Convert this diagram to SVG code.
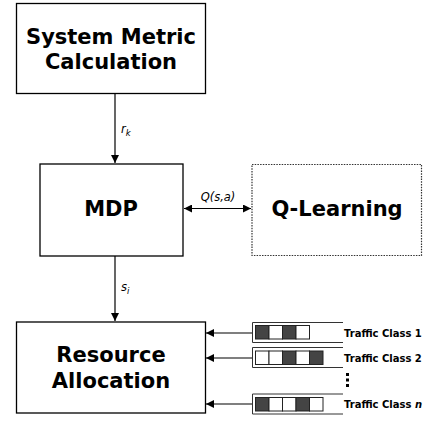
<svg xmlns="http://www.w3.org/2000/svg" width="427" height="422" viewBox="0 0 427 422">
<style>
.box{fill:#fff;stroke:#000;stroke-width:1.3}
.dash{fill:#fff;stroke:#333;stroke-width:1.2;stroke-dasharray:1.5,1.2}
.big{font-family:"DejaVu Sans",sans-serif;font-weight:bold;font-size:21px;text-anchor:middle;fill:#000}
.lab{font-family:"DejaVu Sans",sans-serif;font-style:italic;font-size:11.5px;fill:#000}
.tc{font-family:"DejaVu Sans",sans-serif;font-weight:bold;font-size:10px;fill:#000}
.ln{stroke:#000;stroke-width:1.2;fill:none}
.q{fill:none;stroke:#333;stroke-width:1}
.d{fill:#444;stroke:#222;stroke-width:1}
.w{fill:#fff;stroke:#222;stroke-width:1}
</style>
<defs>
<marker id="ah2" viewBox="0 0 10 10" refX="10" refY="5" markerWidth="11" markerHeight="8" markerUnits="userSpaceOnUse" orient="auto-start-reverse">
<path d="M0,0 L10,5 L0,10 z" fill="#000"/>
</marker>
</defs>
<g id="connectors">
<line class="ln" x1="115" y1="94" x2="115" y2="163" marker-end="url(#ah2)"/>
<text class="lab" x="121" y="133">r<tspan font-size="8.5" dy="3">k</tspan></text>
<line class="ln" x1="184" y1="208.5" x2="251" y2="208.5" marker-start="url(#ah2)" marker-end="url(#ah2)"/>
<text class="lab" x="218" y="201" text-anchor="middle">Q(s,a)</text>
<line class="ln" x1="115" y1="256" x2="115" y2="321" marker-end="url(#ah2)"/>
<text class="lab" x="121" y="291">s<tspan font-size="8.5" dy="3">i</tspan></text>
<line class="ln" x1="252" y1="333" x2="206" y2="333" marker-end="url(#ah2)"/>
<line class="ln" x1="252" y1="358" x2="206" y2="358" stroke="#333" marker-end="url(#ah2)"/>
<line class="ln" x1="252" y1="404" x2="206" y2="404" stroke="#333" marker-end="url(#ah2)"/>
</g>
<g id="system-metric">
<rect class="box" x="16.5" y="3.5" width="189" height="90"/>
<text class="big" x="111" y="44">System Metric</text>
<text class="big" x="111" y="69">Calculation</text>
</g>
<g id="mdp">
<rect class="box" x="40" y="164" width="143" height="92"/>
<text class="big" x="111" y="216">MDP</text>
</g>
<g id="q-learning">
<rect class="dash" x="252" y="164.5" width="169.5" height="91"/>
<text class="big" x="337" y="216">Q-Learning</text>
</g>
<g id="resource-allocation">
<rect class="box" x="16.5" y="322" width="189" height="91"/>
<text class="big" x="111" y="362">Resource</text>
<text class="big" x="111" y="388">Allocation</text>
</g>
<g id="traffic-class-1">
<path class="q" d="M343,322.5 H252.5 V342.5 H343"/>
<rect class="d" x="255.5" y="325.5" width="13.5" height="13.5"/>
<rect class="w" x="269" y="325.5" width="13.5" height="13.5"/>
<rect class="d" x="282.5" y="325.5" width="13.5" height="13.5"/>
<rect class="w" x="296" y="325.5" width="13.5" height="13.5"/>
<text class="tc" x="344" y="337">Traffic Class 1</text>
</g>
<g id="traffic-class-2">
<path class="q" d="M343,347.5 H252.5 V367.5 H343"/>
<rect class="w" x="255.5" y="351" width="13.5" height="13.5"/>
<rect class="w" x="269" y="351" width="13.5" height="13.5"/>
<rect class="d" x="282.5" y="351" width="13.5" height="13.5"/>
<rect class="w" x="296" y="351" width="13.5" height="13.5"/>
<rect class="d" x="309.5" y="351" width="13.5" height="13.5"/>
<text class="tc" x="344" y="362">Traffic Class 2</text>
</g>
<g id="ellipsis">
<rect x="346" y="373" width="3" height="3" fill="#000"/>
<rect x="346" y="378.5" width="3" height="3" fill="#000"/>
<rect x="346" y="384" width="3" height="3" fill="#000"/>
</g>
<g id="traffic-class-n">
<path class="q" d="M343,394 H252.5 V414 H343"/>
<rect class="d" x="255.5" y="397.5" width="13.5" height="13.5"/>
<rect class="w" x="269" y="397.5" width="13.5" height="13.5"/>
<rect class="w" x="282.5" y="397.5" width="13.5" height="13.5"/>
<rect class="d" x="296" y="397.5" width="13.5" height="13.5"/>
<rect class="w" x="309.5" y="397.5" width="13.5" height="13.5"/>
<text class="tc" x="344" y="408">Traffic Class <tspan font-style="italic">n</tspan></text>
</g>
</svg>
